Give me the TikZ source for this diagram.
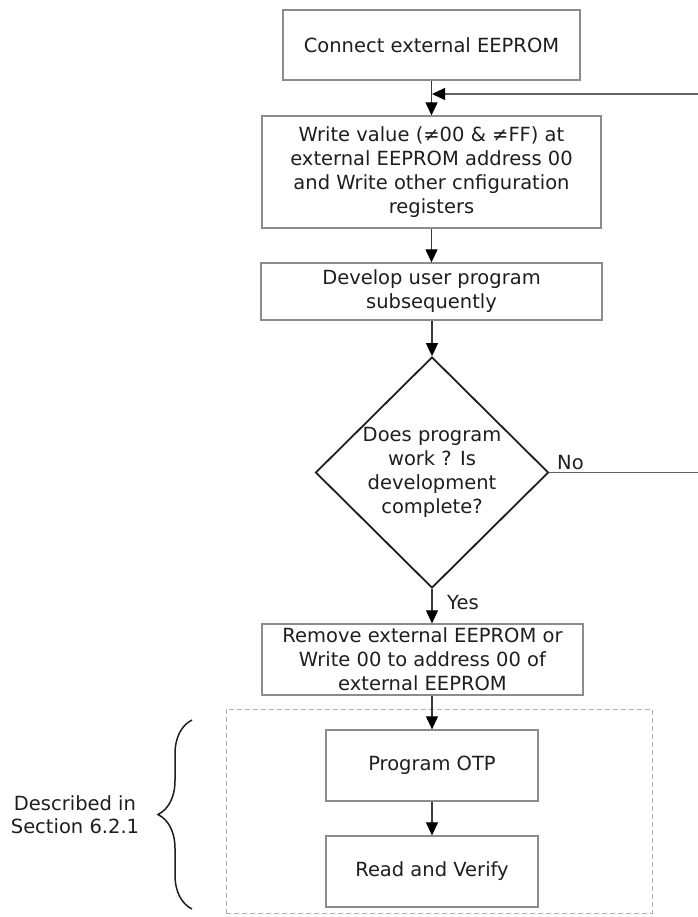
\documentclass[tikz,border=0pt]{standalone}
\usepackage{fontspec}
\setmainfont{DejaVu Sans}
\usepackage{tikz}
\usetikzlibrary{arrows.meta,shapes.geometric,decorations.pathreplacing}
\definecolor{boxgray}{HTML}{8C8C8C}
\definecolor{linegray}{HTML}{3A3A3A}
\definecolor{inkgray}{HTML}{1E1E1E}

\begin{document}
\begin{tikzpicture}[x=1pt,y=-1pt,
		font=\fontsize{19.5}{24}\selectfont, text=inkgray,
		stepbox/.style={draw=boxgray, line width=1.3pt, rectangle, align=center, inner sep=0pt},
		decision/.style={draw=inkgray, line width=1.8pt, diamond, align=center, inner sep=0pt, aspect=1},
		flow/.style={draw=linegray, line width=1.1pt, -{Triangle[length=13pt,width=12pt,fill=black,color=black]}},
	]
	\useasboundingbox (0,0) rectangle (697,917);
	\node[stepbox, minimum width=297pt, minimum height=70pt] (connect) at (431.5,45) {Connect external EEPROM};
	\node[stepbox, minimum width=339pt, minimum height=112pt] (writeval) at (431.5,172)
		{Write value (≠00 \& ≠FF) at\\external EEPROM address 00\\and Write other cnfiguration\\registers};
	\node[stepbox, minimum width=341pt, minimum height=57pt] (develop) at (431.5,291.5)
		{Develop user program\\subsequently};
	\node[decision, minimum width=233pt, minimum height=231pt] (check) at (432,472.5)
		{Does program\\work ? Is\\development\\complete?};
	\node[stepbox, minimum width=321pt, minimum height=71pt] (remove) at (422.5,659.5)
		{Remove external EEPROM or\\Write 00 to address 00 of\\external EEPROM};
	\node[draw=boxgray!70, line width=1pt, dash pattern=on 5pt off 3pt, rectangle, minimum width=426pt, minimum height=204pt, inner sep=0pt] (otpzone) at (439,811) {};
	\node[stepbox, minimum width=212pt, minimum height=71pt] (otp) at (432,765.5) {Program OTP};
	\node[stepbox, minimum width=212pt, minimum height=71pt] (verify) at (432,871.5) {Read and Verify};
	\node[align=center, font=\fontsize{19.5}{23}\selectfont] (described) at (75,815) {Described in\\Section 6.2.1};
	\node[anchor=south west, inner sep=0pt] (nolabel) at (557,470) {No};
	\node[anchor=west, inner sep=0pt] (yeslabel) at (447,603) {Yes};

	\coordinate (merge) at (432,94);
	\coordinate (edge) at (700,472.5);
	\draw[flow] (connect.south -| writeval.north) -- (writeval.north);
	\draw[flow] (writeval) -- (develop);
	\draw[flow] (develop.south -| check.north) -- (check.north);
	\draw[flow] (check.south) -- (check.south |- remove.north);
	\draw[flow] (check.south |- remove.south) -- (otp.north);
	\draw[flow] (otp) -- (verify);
	\draw[draw=linegray!80, line width=1.1pt] (check.east) -- (edge);
	\draw[flow, draw=linegray!80] (edge |- merge) -- (merge);
	\draw[draw=inkgray, line width=1.5pt, decorate, decoration={brace, amplitude=34pt}] (192,909) -- (192,720);
\end{tikzpicture}
\end{document}
